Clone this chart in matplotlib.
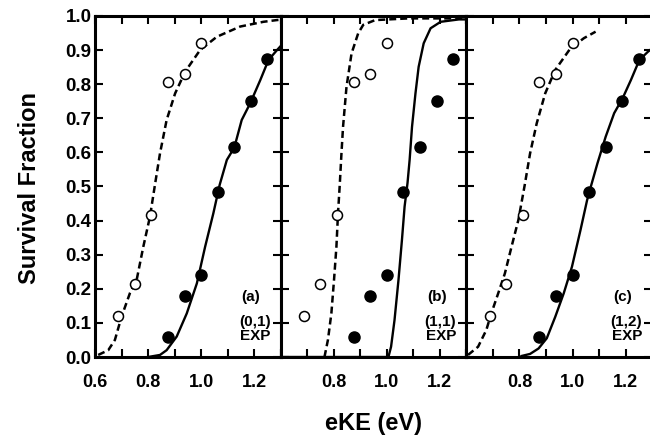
import matplotlib
matplotlib.use("Agg")
import matplotlib.pyplot as plt
from matplotlib.ticker import MultipleLocator, FixedLocator, NullFormatter, FormatStrFormatter

plt.rcParams['font.family'] = ['Liberation Sans', 'DejaVu Sans']
plt.rcParams['font.weight'] = 'bold'

# experimental points (same in every panel)
ke_open = [0.6875, 0.75, 0.8125, 0.875, 0.9375, 1.0]
sf_open = [0.12, 0.215, 0.415, 0.805, 0.83, 0.92]
ke_filled = [0.875, 0.9375, 1.0, 1.0625, 1.125, 1.1875, 1.25]
sf_filled = [0.06, 0.18, 0.24, 0.485, 0.615, 0.75, 0.875]

# model curves
a_dash_x = [0.612, 0.650, 0.675, 0.700, 0.732, 0.757, 0.782, 0.807, 0.826, 0.845,
            0.870, 0.902, 0.940, 0.996, 1.059, 1.147, 1.235, 1.285, 1.30]
a_dash_y = [0.006, 0.020, 0.050, 0.118, 0.188, 0.226, 0.323, 0.411, 0.505, 0.597,
            0.695, 0.773, 0.837, 0.900, 0.939, 0.969, 0.983, 0.988, 0.989]
a_solid_x = [0.80, 0.845, 0.870, 0.908, 0.946, 0.984, 1.015, 1.046, 1.070, 1.097,
             1.125, 1.153, 1.185, 1.223, 1.254, 1.286, 1.30]
a_solid_y = [0.0, 0.006, 0.020, 0.060, 0.128, 0.216, 0.323, 0.421, 0.505, 0.578,
             0.614, 0.695, 0.744, 0.812, 0.871, 0.900, 0.912]

b_dash_x = [0.765, 0.778, 0.791, 0.801, 0.810, 0.816, 0.823, 0.829, 0.835, 0.848,
            0.867, 0.892, 0.911, 0.956, 1.082, 1.30]
b_dash_y = [0.0, 0.050, 0.128, 0.226, 0.323, 0.421, 0.510, 0.597, 0.675, 0.792,
            0.890, 0.949, 0.974, 0.988, 0.993, 0.993]
b_solid_x = [0.60, 1.006, 1.016, 1.029, 1.044, 1.057, 1.067, 1.078, 1.086, 1.095,
             1.108, 1.120, 1.139, 1.165, 1.203, 1.272, 1.30]
b_solid_y = [0.0, 0.0, 0.030, 0.108, 0.226, 0.343, 0.441, 0.510, 0.578, 0.675,
             0.773, 0.851, 0.920, 0.964, 0.983, 0.990, 0.990]

c_dash_x = [0.606, 0.644, 0.675, 0.694, 0.720, 0.745, 0.770, 0.796, 0.820, 0.840,
            0.865, 0.897, 0.935, 0.992, 1.043, 1.087]
c_dash_y = [0.006, 0.030, 0.079, 0.128, 0.187, 0.245, 0.323, 0.402, 0.505, 0.597,
            0.685, 0.773, 0.842, 0.905, 0.935, 0.954]
c_solid_x = [0.808, 0.840, 0.872, 0.903, 0.935, 0.967, 0.998, 1.030, 1.055, 1.071,
             1.094, 1.125, 1.157, 1.189, 1.220, 1.252, 1.284, 1.30]
c_solid_y = [0.003, 0.009, 0.025, 0.055, 0.118, 0.187, 0.265, 0.372, 0.460, 0.505,
             0.568, 0.646, 0.715, 0.759, 0.812, 0.871, 0.895, 0.905]

panels = [
    ("(a)", "(0,1)", a_dash_x, a_dash_y, a_solid_x, a_solid_y, [0.6, 0.8, 1.0, 1.2]),
    ("(b)", "(1,1)", b_dash_x, b_dash_y, b_solid_x, b_solid_y, [0.8, 1.0, 1.2]),
    ("(c)", "(1,2)", c_dash_x, c_dash_y, c_solid_x, c_solid_y, [0.8, 1.0, 1.2]),
]

fig = plt.figure(figsize=(6.5, 4.36), dpi=100)
W, H = 650.0, 436.0
left, bottom, top = 95.0, 357.0, 16.0
pw = 185.7

for i, (tag, state, dx, dy, sx, sy, labs) in enumerate(panels):
    ax = fig.add_axes([(left + i * pw) / W, (H - bottom) / H, pw / W, (bottom - top) / H])
    ax.plot(dx, dy, color='black', lw=1.8, ls=(0, (2.8, 1.6)), zorder=2)
    ax.plot(sx, sy, color='black', lw=1.7, zorder=2)
    ax.plot(ke_open, sf_open, 'o', ms=7.2, mfc='white', mec='black', mew=1.1, zorder=3)
    ax.plot(ke_filled, sf_filled, 'o', ms=8, mfc='black', mec='black', zorder=3)
    ax.set_xlim(0.6, 1.3)
    ax.set_ylim(0.0, 1.0)
    ax.xaxis.set_major_locator(FixedLocator(labs))
    ax.xaxis.set_minor_locator(MultipleLocator(0.1))
    ax.xaxis.set_major_formatter(FormatStrFormatter('%.1f'))
    ax.yaxis.set_major_locator(MultipleLocator(0.1))
    ax.tick_params(axis='both', which='both', direction='in', length=5.8, width=1.5,
                   top=True, right=True, labelsize=13)
    ax.tick_params(axis='x', which='both', pad=12)
    ax.tick_params(axis='y', pad=2.5, labelsize=13.5)
    if i > 0:
        ax.yaxis.set_major_formatter(NullFormatter())
    else:
        ax.yaxis.set_major_formatter(FormatStrFormatter('%.1f'))
    for sp in ax.spines.values():
        sp.set_linewidth(2.2)
    ax.text(0.84, 0.175, tag, transform=ax.transAxes, ha='center', va='center',
            fontsize=11, fontweight='bold')
    ax.text(0.86, 0.103, state, transform=ax.transAxes, ha='center', va='center',
            fontsize=11, fontweight='bold')
    ax.text(0.865, 0.063, "EXP", transform=ax.transAxes, ha='center', va='center',
            fontsize=11, fontweight='bold')

fig.text(30 / W, 1 - 188 / H, "Survival Fraction", rotation=90, ha='center', va='center',
         fontsize=17, fontweight='bold')
fig.text(373 / W, 1 - 423 / H, "eKE (eV)", ha='center', va='center',
         fontsize=17, fontweight='bold')

fig.savefig("out.png", dpi=100)
